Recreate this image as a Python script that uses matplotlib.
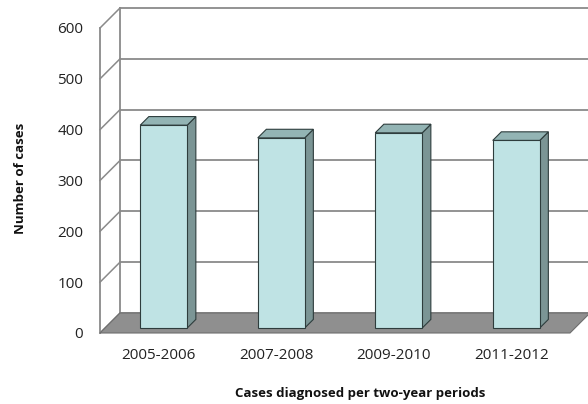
import matplotlib.pyplot as plt
from matplotlib.patches import Polygon

periods = ["2005-2006", "2007-2008", "2009-2010", "2011-2012"]
cases = [399, 374, 384, 369]
yticks = [0, 100, 200, 300, 400, 500, 600]

plt.rcParams["font.family"] = ["Open Sans", "DejaVu Sans"]

fig = plt.figure(figsize=(5.88, 4.04), dpi=100)
ax = fig.add_axes([100 / 588, 71 / 404, 470 / 588, 305 / 404])
ax.set_xlim(0, 4)
ax.set_ylim(0, 600)

# oblique depth offset (data units) for the fake 3-D look
DX = 20 / 117.5
DY = 20 / (305 / 600)
grid_c = "#8a8a8a"

# back wall + side wall gridlines
for v in yticks:
    ax.plot([DX, 4 + DX], [v + DY, v + DY], color=grid_c, lw=1.3, clip_on=False, zorder=1)
    ax.plot([0, DX], [v, v + DY], color=grid_c, lw=1.1, clip_on=False, zorder=1)
ax.plot([DX, DX], [DY, 600 + DY], color=grid_c, lw=1.3, clip_on=False, zorder=1)
ax.plot([0, 0], [0, 600], color=grid_c, lw=1.3, clip_on=False, zorder=1)

# floor
floor = Polygon([(0, 0), (4, 0), (4 + DX, DY), (DX, DY)], closed=True,
                facecolor="#8f8f8f", edgecolor="#6e6e6e", lw=0.8, clip_on=False, zorder=2)
ax.add_patch(floor)

# bars
w = 0.40
f0, f1 = 0.25, 0.68
for i, v in enumerate(cases):
    x0 = i + 0.5 - w / 2 + f0 * DX
    x1 = x0 + w
    y0 = f0 * DY
    ox, oy = (f1 - f0) * DX, (f1 - f0) * DY
    front = [(x0, y0), (x1, y0), (x1, y0 + v), (x0, y0 + v)]
    side = [(x1, y0), (x1 + ox, y0 + oy), (x1 + ox, y0 + v + oy), (x1, y0 + v)]
    top = [(x0, y0 + v), (x1, y0 + v), (x1 + ox, y0 + v + oy), (x0 + ox, y0 + v + oy)]
    for pts, c in [(side, "#7b9595"), (top, "#93b4b4"), (front, "#bfe3e4")]:
        ax.add_patch(Polygon(pts, closed=True, facecolor=c, edgecolor="#2e3d3d",
                             lw=0.8, clip_on=False, zorder=3))

ax.set_yticks(yticks)
ax.set_yticklabels([str(t) for t in yticks], fontsize=11, color="#222222")
ax.set_xticks([i + 0.5 for i in range(len(periods))])
ax.set_xticklabels(periods, fontsize=11, color="#222222")
ax.tick_params(length=0)
ax.tick_params(axis="y", pad=12)
ax.tick_params(axis="x", pad=11)
for s in ax.spines.values():
    s.set_visible(False)
ax.patch.set_visible(False)

fig.text(20 / 588, 1 - 178 / 404, "Number of cases", rotation=90, ha="center", va="center",
         fontsize=9.5, fontweight="bold", color="#111111")
fig.text(360 / 588, 1 - 394 / 404, "Cases diagnosed per two-year periods", ha="center",
         va="center", fontsize=9.5, fontweight="bold", color="#111111")

fig.savefig("out.png", dpi=100)
